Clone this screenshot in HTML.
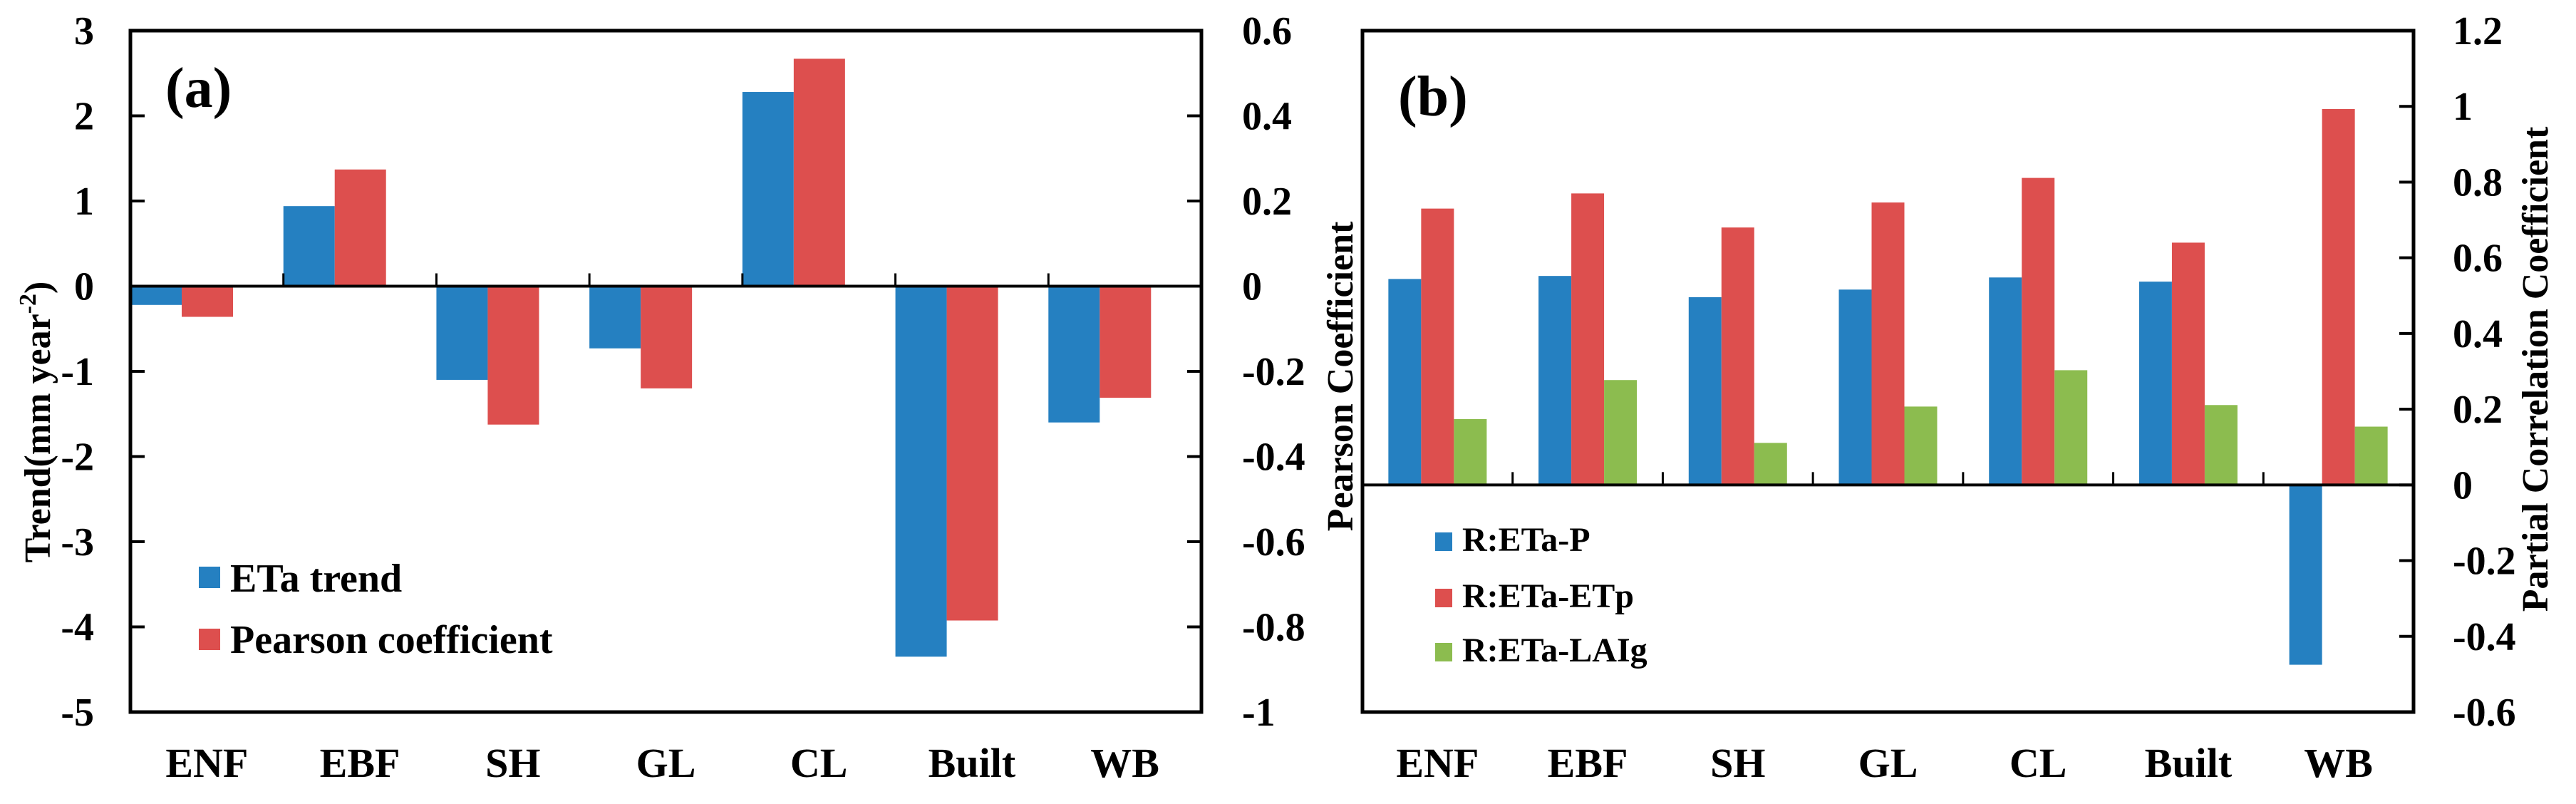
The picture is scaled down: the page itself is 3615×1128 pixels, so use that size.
<!DOCTYPE html>
<html><head><meta charset="utf-8"><style>
html,body{margin:0;padding:0;background:#fff;}
svg{display:block;}
svg text{font-family:"Liberation Serif","Times New Roman","DejaVu Serif",serif;font-weight:bold;}
</style></head><body>
<svg id="chart" width="3615" height="1128" viewBox="0 0 3615 1128" xmlns="http://www.w3.org/2000/svg" font-family="Liberation Serif, Times New Roman, DejaVu Serif, serif" font-weight="bold">
<rect x="0" y="0" width="3615" height="1128" fill="#fff"/>
<g id="pa" font-family="Liberation Serif, serif"></g>
<g id="pb" font-family="Liberation Serif, serif"></g>
</svg>
<script>
const categories = ["ENF","EBF","SH","GL","CL","Built","WB"];
const etaTrend = [-0.22, 0.94, -1.1, -0.73, 2.28, -4.35, -1.6];
const pearsonCoef = [-0.072, 0.274, -0.325, -0.24, 0.534, -0.785, -0.262];
const rEtaP = [0.544, 0.552, 0.496, 0.516, 0.548, 0.537, -0.475];
const rEtaETp = [0.73, 0.77, 0.68, 0.746, 0.811, 0.64, 0.993];
const rEtaLAIg = [0.174, 0.277, 0.111, 0.207, 0.303, 0.211, 0.154];
const aLeftTicks = ["3","2","1","0","-1","-2","-3","-4","-5"];
const aRightTicks = ["0.6","0.4","0.2","0","-0.2","-0.4","-0.6","-0.8","-1"];
const bRightTicks = ["1.2","1","0.8","0.6","0.4","0.2","0","-0.2","-0.4","-0.6"];

const NS = "http://www.w3.org/2000/svg";
const BLUE = "#2580c1", RED = "#dd4f4e", GREEN = "#8cbc4f";
const FONT = '"Liberation Serif", "Times New Roman", serif';
function mk(parent, tag, attrs, text){
  const e = document.createElementNS(NS, tag);
  for (const k in attrs) e.setAttribute(k, attrs[k]);
  if (tag === 'text') { e.style.fontFamily = FONT; e.style.fontWeight = 'bold'; }
  if (text !== undefined) e.textContent = text;
  parent.appendChild(e);
  return e;
}
const TOP = 43, BOT = 999;

/* ---------- Panel A ---------- */
const pa = document.getElementById('pa');
const aL = 183, aR = 1686;
const yA = v => TOP + (3 - v) / 8 * (BOT - TOP);
const yA2 = v => TOP + (0.6 - v) / 1.6 * (BOT - TOP);
const aCat = (aR - aL) / categories.length;
const aBarW = 72;
categories.forEach((c, i) => {
  const x0 = aL + i * aCat;
  const v1 = etaTrend[i], y1 = yA(v1), z1 = yA(0);
  const b1 = mk(pa, 'rect', {x: x0, y: Math.min(y1, z1), width: aBarW, height: Math.abs(y1 - z1), fill: BLUE});
  
  
  const v2 = pearsonCoef[i], y2 = yA2(v2), z2 = yA2(0);
  const b2 = mk(pa, 'rect', {x: x0 + aBarW, y: Math.min(y2, z2), width: aBarW, height: Math.abs(y2 - z2), fill: RED});
  
  
  const t = mk(pa, 'text', {x: x0 + aCat / 2, y: 1090, 'text-anchor': 'middle', 'font-size': 58}, c);
  
  
  if (i > 0) {
    const tk = mk(pa, 'line', {x1: x0, x2: x0, y1: yA(0), y2: yA(0) - 18, stroke: '#000', 'stroke-width': 3});
    
    
  }
});
aLeftTicks.forEach((s, i) => {
  const y = TOP + i * (BOT - TOP) / (aLeftTicks.length - 1);
  const t = mk(pa, 'text', {x: 132, y: y + 19, 'text-anchor': 'end', 'font-size': 56}, s);
  
  
  const l = mk(pa, 'line', {x1: aL, x2: aL + 20, y1: y, y2: y, stroke: '#000', 'stroke-width': 4});
  
  
});
aRightTicks.forEach((s, i) => {
  const y = TOP + i * (BOT - TOP) / (aRightTicks.length - 1);
  const t = mk(pa, 'text', {x: 1743, y: y + 19, 'text-anchor': 'start', 'font-size': 56}, s);
  
  
  const l = mk(pa, 'line', {x1: aR - 20, x2: aR, y1: y, y2: y, stroke: '#000', 'stroke-width': 4});
  
  
});
let zl = mk(pa, 'line', {x1: aL, x2: aR, y1: yA(0), y2: yA(0), stroke: '#000', 'stroke-width': 4});


let fr = mk(pa, 'rect', {x: aL, y: TOP, width: aR - aL, height: BOT - TOP, fill: 'none', stroke: '#000', 'stroke-width': 5});



/* static texts panel A */
(function(){
  let t;
  t = mk(pa, 'text', {x: 232, y: 150, 'font-size': 80}, '(a)');
   
  t = mk(pa, 'text', {x: 0, y: 0, 'font-size': 52, 'text-anchor': 'middle', transform: 'translate(70,592) rotate(-90)'});
   
  t.innerHTML = 'Trend(mm  year<tspan dy="-20" font-size="34">-2</tspan><tspan dy="20">)</tspan>';
  let s = mk(pa, 'rect', {x: 279, y: 795, width: 30, height: 30, fill: BLUE});
   
  t = mk(pa, 'text', {x: 323, y: 830, 'font-size': 56}, 'ETa trend');
   
  s = mk(pa, 'rect', {x: 279, y: 882, width: 30, height: 30, fill: RED});
   
  t = mk(pa, 'text', {x: 323, y: 916, 'font-size': 56}, 'Pearson coefficient');
   
})();

/* ---------- Panel B ---------- */
(function(){
  const pb = document.getElementById('pb');
  const bL = 1912, bR = 3387;
  const yB = v => TOP + (1.2 - v) / 1.8 * (BOT - TOP);
  const cat = (bR - bL) / categories.length;
  const bw = 46;
  const series = [[rEtaP, BLUE, 'r-eta-p'], [rEtaETp, RED, 'r-eta-etp'], [rEtaLAIg, GREEN, 'r-eta-laig']];
  categories.forEach((c, i) => {
    const cx = bL + i * cat + cat / 2;
    series.forEach((sr, j) => {
      const v = sr[0][i], y = yB(v), z = yB(0);
      const r = mk(pb, 'rect', {x: cx - 1.5 * bw + j * bw, y: Math.min(y, z), width: bw, height: Math.abs(y - z), fill: sr[1]});
      
      
    });
    const t = mk(pb, 'text', {x: cx, y: 1090, 'text-anchor': 'middle', 'font-size': 58}, c);
    
    
    if (i > 0) {
      const x0 = bL + i * cat;
      const tk = mk(pb, 'line', {x1: x0, x2: x0, y1: yB(0), y2: yB(0) - 18, stroke: '#000', 'stroke-width': 3});
      
      
    }
  });
  bRightTicks.forEach((s, i) => {
    const y = TOP + i * (BOT - TOP) / (bRightTicks.length - 1);
    const t = mk(pb, 'text', {x: 3442, y: y + 19, 'text-anchor': 'start', 'font-size': 56}, s);
    
    
    const l = mk(pb, 'line', {x1: bR - 20, x2: bR, y1: y, y2: y, stroke: '#000', 'stroke-width': 4});
    
    
  });
  let zl = mk(pb, 'line', {x1: bL, x2: bR, y1: yB(0), y2: yB(0), stroke: '#000', 'stroke-width': 4});
  
  
  let fr = mk(pb, 'rect', {x: bL, y: TOP, width: bR - bL, height: BOT - TOP, fill: 'none', stroke: '#000', 'stroke-width': 5});
  
  
  let t;
  t = mk(pb, 'text', {x: 1962, y: 162, 'font-size': 80}, '(b)');
   
  t = mk(pb, 'text', {x: 0, y: 0, 'font-size': 52, 'text-anchor': 'middle', transform: 'translate(1898,528) rotate(-90)'}, 'Pearson  Coefficient');
   
  t = mk(pb, 'text', {x: 0, y: 0, 'font-size': 52, 'text-anchor': 'middle', transform: 'translate(3575,518) rotate(-90)'}, 'Partial  Correlation  Coefficient');
   
  const leg = [['R:ETa-P', BLUE, 773, 'r-eta-p'], ['R:ETa-ETp', RED, 852, 'r-eta-etp'], ['R:ETa-LAIg', GREEN, 928, 'r-eta-laig']];
  leg.forEach(e => {
    const s = mk(pb, 'rect', {x: 2014, y: e[2] - 26, width: 24, height: 26, fill: e[1]});
    
    
    const tx = mk(pb, 'text', {x: 2052, y: e[2], 'font-size': 48}, e[0]);
    
    
  });
})();
</script>
</body></html>
